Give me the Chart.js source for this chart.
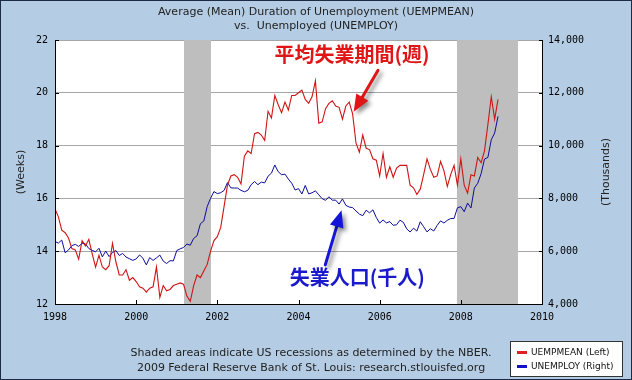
<!DOCTYPE html>
<html>
<head>
<meta charset="utf-8">
<script src="https://cdn.jsdelivr.net/npm/chart.js@4/dist/chart.umd.min.js"></script>
<style>
html,body{margin:0;padding:0;background:#b5cde4;}
canvas{display:block;}
</style>
</head>
<body>
<canvas id="c" width="632" height="380"></canvas>
<script>
// ---- data (monthly, Jan 1998 .. Dec 2008) ----
const startYear = 1998;
const uempmean = [
  15.6, 15.3, 14.8, 14.7, 14.5, 14.1, 14.05, 13.7, 14.4, 14.2, 14.45, 13.9,
  13.4, 13.85, 13.4, 13.3, 13.45, 14.3, 13.6, 13.1, 13.1, 13.3, 12.9, 13.0,
  12.85, 12.65, 12.6, 12.45, 12.6, 12.65, 13.4, 12.25, 12.7, 12.5, 12.55, 12.7,
  12.75, 12.8, 12.75, 12.3, 12.1, 12.7, 13.1, 13.0, 13.25, 13.5, 14.0, 14.4,
  14.55, 14.9, 15.7, 16.5, 16.85, 16.9, 16.8, 16.55, 17.6, 17.8, 17.7, 18.45,
  18.5, 18.4, 18.2, 19.3, 19.05, 19.9, 19.55, 19.25, 19.65, 19.35, 19.9, 19.9,
  20.0, 20.1, 19.75, 19.6, 19.85, 20.45, 18.85, 18.9, 19.4, 19.6, 19.7, 19.5,
  19.45, 19.0, 19.5, 19.65, 19.2, 18.1, 17.75, 18.4, 17.9, 17.85, 17.5, 17.45,
  16.85, 17.7, 16.8, 17.2, 16.8, 17.15, 17.25, 17.25, 17.25, 16.5, 16.4, 16.15,
  16.35, 16.9, 17.5, 17.1, 16.8, 16.85, 17.4, 17.05, 16.45, 16.9, 17.25, 16.5,
  17.5, 16.5, 16.2, 16.9, 16.85, 17.55, 17.35, 17.8, 18.8, 19.85, 19.0, 19.75
];
const unemploy = [
  6368, 6306, 6422, 5941, 6047, 6212, 6259, 6179, 6300, 6280, 6100, 6032,
  5976, 6111, 5783, 6004, 5796, 5951, 6025, 5838, 5915, 5778, 5716, 5653,
  5708, 5858, 5733, 5481, 5758, 5651, 5747, 5853, 5625, 5534, 5639, 5634,
  6023, 6089, 6141, 6271, 6226, 6484, 6583, 7042, 7142, 7694, 8003, 8258,
  8182, 8215, 8304, 8599, 8399, 8393, 8390, 8304, 8251, 8307, 8520, 8640,
  8520, 8618, 8588, 8842, 8957, 9266, 9011, 8896, 8921, 8732, 8576, 8317,
  8370, 8167, 8491, 8170, 8212, 8286, 8136, 7990, 7927, 8061, 7932, 7934,
  7784, 7980, 7737, 7672, 7651, 7524, 7406, 7345, 7553, 7453, 7566, 7279,
  7064, 7184, 7072, 7120, 6980, 7001, 7175, 7091, 6847, 6727, 6872, 6762,
  7116, 6927, 6731, 6850, 6766, 6979, 7149, 7067, 7170, 7237, 7240, 7645,
  7685, 7497, 7822, 7637, 8395, 8573, 8937, 9492, 9551, 10221, 10476, 11108
];
// recession periods (decimal years): 2001-03..2001-11, 2007-12..2009-06
const recessions = [[2001 + 2/12, 2001 + 10/12], [2007 + 11/12, 2009 + 5/12]];
const xTicks = [1998, 2000, 2002, 2004, 2006, 2008, 2010];
const weekTicks = [12, 14, 16, 18, 20, 22];
const thousandTicks = [4000, 6000, 8000, 10000, 12000, 14000];

const titleLines = ['Average (Mean) Duration of Unemployment (UEMPMEAN)', 'vs.  Unemployed (UNEMPLOY)'];
const footLines = ['Shaded areas indicate US recessions as determined by the NBER.',
                   '2009 Federal Reserve Bank of St. Louis: research.stlouisfed.org'];
const leftTitle = '(Weeks)';
const rightTitle = '(Thousands)';
const seriesNames = ['UEMPMEAN (Left)', 'UNEMPLOY (Right)'];

// annotations, in data coordinates (x: year, y: weeks)
const redNote = { text: '平均失業期間(週)', x: 2005.32, y: 21.45 };
const redArrow = { from: [2005.96, 20.85], to: [2005.36, 19.28] };
const blueNote = { text: '失業人口(千人)', x: 2005.45, y: 13.0 };
const blueArrow = { from: [2004.66, 13.48], to: [2005.06, 15.55] };

const RED = '#d01414';
const BLUE = '#0c0c9c';
const BG = '#b5cde4';
const SANS = '"DejaVu Sans", Verdana, sans-serif';
const MONO = '"DejaVu Sans Mono", monospace';

function toPoints(arr) {
  return arr.map((v, i) => ({ x: startYear + i / 12, y: v }));
}

function drawArrow(ctx, x0, y0, x1, y1, color) {
  const ang = Math.atan2(y1 - y0, x1 - x0);
  const headLen = 17, headW = 7;
  const bx = x1 - headLen * Math.cos(ang), by = y1 - headLen * Math.sin(ang);
  ctx.beginPath();
  ctx.moveTo(x0, y0);
  ctx.lineTo(bx, by);
  ctx.strokeStyle = color;
  ctx.lineWidth = 3;
  ctx.lineCap = 'round';
  ctx.stroke();
  ctx.beginPath();
  ctx.moveTo(x1, y1);
  ctx.lineTo(bx + headW * Math.sin(ang), by - headW * Math.cos(ang));
  ctx.lineTo(bx - headW * Math.sin(ang), by + headW * Math.cos(ang));
  ctx.closePath();
  ctx.fillStyle = color;
  ctx.fill();
}

const fredPlugin = {
  id: 'fred',
  beforeDraw(chart) {
    const { ctx, chartArea: a } = chart;
    ctx.save();
    ctx.fillStyle = BG;
    ctx.fillRect(0, 0, chart.width, chart.height);
    ctx.fillStyle = '#ffffff';
    ctx.fillRect(a.left, a.top, a.right - a.left, a.bottom - a.top);
    ctx.restore();
  },
  beforeDatasetsDraw(chart) {
    const { ctx, chartArea: a, scales: { x } } = chart;
    ctx.save();
    ctx.fillStyle = '#bebebe';
    recessions.forEach(([s, e]) => {
      const x0 = Math.round(x.getPixelForValue(s));
      const x1 = Math.round(x.getPixelForValue(e));
      ctx.fillRect(x0, a.top, x1 - x0, a.bottom - a.top);
    });
    ctx.restore();
  },
  afterDatasetsDraw(chart) {
    const { ctx, chartArea: a, scales: { x, y, y2 } } = chart;
    ctx.save();
    // axis lines
    ctx.fillStyle = '#000';
    const L = Math.round(a.left), R = Math.round(a.right), T = Math.round(a.top), B = Math.round(a.bottom);
    ctx.fillRect(L, T, 1, B - T + 1);
    ctx.fillRect(R, T, 1, B - T + 1);
    ctx.fillRect(L, B, R - L + 1, 1);
    // inward ticks
    weekTicks.forEach(v => { const p = Math.round(y.getPixelForValue(v)); ctx.fillRect(L, p, 4, 1); });
    thousandTicks.forEach(v => { const p = Math.round(y2.getPixelForValue(v)); ctx.fillRect(R - 3, p, 4, 1); });
    xTicks.forEach(v => { const p = Math.round(x.getPixelForValue(v)); ctx.fillRect(p, B - 4, 1, 4); });

    // annotations
    ctx.shadowColor = 'rgba(0,0,0,0.45)';
    ctx.shadowBlur = 4;
    ctx.shadowOffsetX = 3;
    ctx.shadowOffsetY = 3;
    drawArrow(ctx, x.getPixelForValue(redArrow.from[0]), y.getPixelForValue(redArrow.from[1]),
              x.getPixelForValue(redArrow.to[0]), y.getPixelForValue(redArrow.to[1]), '#e01515');
    drawArrow(ctx, x.getPixelForValue(blueArrow.from[0]), y.getPixelForValue(blueArrow.from[1]),
              x.getPixelForValue(blueArrow.to[0]), y.getPixelForValue(blueArrow.to[1]), '#1515d8');
    ctx.shadowColor = 'transparent';
    ctx.shadowBlur = 0; ctx.shadowOffsetX = 0; ctx.shadowOffsetY = 0;
    ctx.font = 'bold 20px "Noto Sans CJK JP"';
    ctx.textAlign = 'center';
    ctx.textBaseline = 'middle';
    ctx.fillStyle = '#e01515';
    ctx.fillText(redNote.text, x.getPixelForValue(redNote.x), y.getPixelForValue(redNote.y));
    ctx.fillStyle = '#1a1acc';
    ctx.fillText(blueNote.text, x.getPixelForValue(blueNote.x), y.getPixelForValue(blueNote.y));
    ctx.restore();
  },
  afterDraw(chart) {
    const { ctx, chartArea: a } = chart;
    ctx.save();
    ctx.fillStyle = '#222';
    ctx.textAlign = 'center';
    ctx.textBaseline = 'middle';
    ctx.font = '11px ' + SANS;
    ctx.fillText(titleLines[0], 316, 12);
    ctx.fillText(titleLines[1], 316, 26);
    ctx.fillText(footLines[0], 311, 353);
    ctx.fillText(footLines[1], 311, 368);
    // axis titles
    ctx.save();
    ctx.translate(21, (a.top + a.bottom) / 2);
    ctx.rotate(-Math.PI / 2);
    ctx.fillText(leftTitle, 0, 0);
    ctx.restore();
    ctx.save();
    ctx.translate(606, (a.top + a.bottom) / 2);
    ctx.rotate(-Math.PI / 2);
    ctx.fillText(rightTitle, 0, 0);
    ctx.restore();
    // legend
    const lx = 510, ly = 341, lw = 112, lh = 35;
    ctx.fillStyle = '#fff';
    ctx.fillRect(lx, ly, lw, lh);
    ctx.strokeStyle = '#333';
    ctx.lineWidth = 1;
    ctx.strokeRect(lx + 0.5, ly + 0.5, lw, lh);
    ctx.font = '9px ' + SANS;
    ctx.textAlign = 'left';
    chart.data.datasets.forEach((ds, i) => {
      const ry = ly + 11 + i * 14;
      ctx.fillStyle = i === 0 ? '#e02020' : '#1010d0';
      ctx.fillRect(lx + 7, ry - 1, 10, 3);
      ctx.fillStyle = '#111';
      ctx.fillText(ds.label, lx + 21, ry + 0.5);
    });
    // outer border
    ctx.strokeStyle = '#1c2a44';
    ctx.strokeRect(0.5, 0.5, chart.width - 1, chart.height - 1);
    ctx.restore();
  }
};

new Chart(document.getElementById('c'), {
  type: 'line',
  data: {
    datasets: [
      { label: seriesNames[0], data: toPoints(uempmean), yAxisID: 'y',
        borderColor: RED, borderWidth: 1.1, pointRadius: 0, tension: 0, fill: false },
      { label: seriesNames[1], data: toPoints(unemploy), yAxisID: 'y2',
        borderColor: BLUE, borderWidth: 1, pointRadius: 0, tension: 0, fill: false }
    ]
  },
  options: {
    responsive: false,
    animation: false,
    devicePixelRatio: 1,
    layout: { padding: { top: 40, left: 0, right: 0, bottom: 0 } },
    plugins: { legend: { display: false }, tooltip: { enabled: false }, title: { display: false } },
    scales: {
      x: {
        type: 'linear', min: 1998, max: 2010,
        afterBuildTicks: s => { s.ticks = xTicks.map(v => ({ value: v })); },
        ticks: { callback: v => String(v), color: '#000', font: { family: MONO, size: 10 }, padding: 7, maxRotation: 0 },
        grid: { display: false, drawTicks: false },
        border: { display: false },
        afterFit: s => { s.height = 76; }
      },
      y: {
        position: 'left', min: 12, max: 22,
        afterBuildTicks: s => { s.ticks = weekTicks.map(v => ({ value: v })); },
        ticks: { color: '#000', font: { family: MONO, size: 10 }, padding: 7 },
        grid: { color: '#a6a6a6', lineWidth: 1, drawTicks: false },
        border: { display: false },
        afterFit: s => { s.width = 55; }
      },
      y2: {
        position: 'right', min: 4000, max: 14000,
        afterBuildTicks: s => { s.ticks = thousandTicks.map(v => ({ value: v })); },
        ticks: { callback: v => v.toLocaleString('en-US'), color: '#000', font: { family: MONO, size: 10 }, padding: 6 },
        grid: { display: false, drawTicks: false },
        border: { display: false },
        afterFit: s => { s.width = 90; }
      }
    }
  },
  plugins: [fredPlugin]
});
</script>
</body>
</html>
